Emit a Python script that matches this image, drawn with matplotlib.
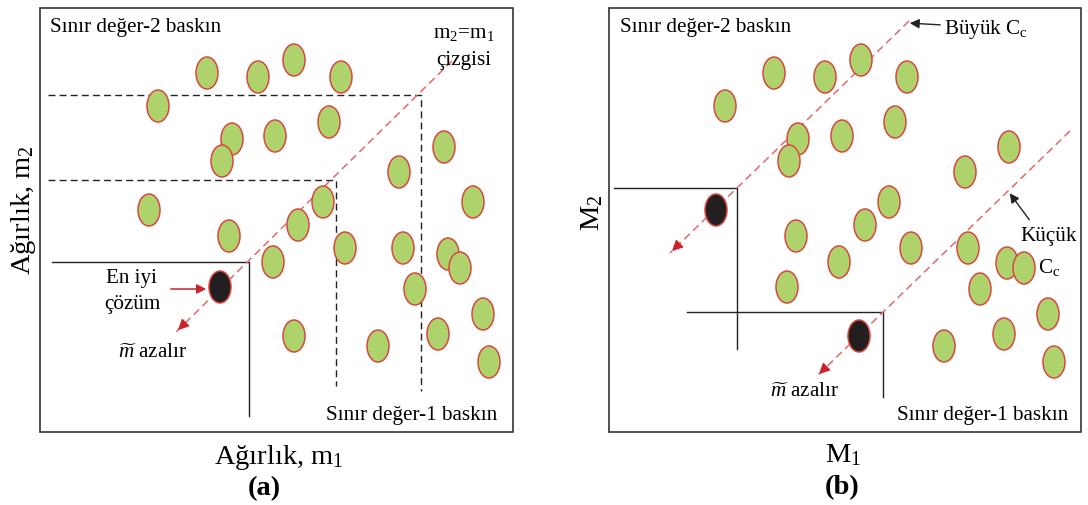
import matplotlib.pyplot as plt
from matplotlib.patches import Ellipse, Rectangle

plt.rcParams['font.family'] = ['Liberation Serif', 'DejaVu Serif']
plt.rcParams['mathtext.fontset'] = 'custom'
plt.rcParams['mathtext.rm'] = 'Liberation Serif'
plt.rcParams['mathtext.it'] = 'Liberation Serif:italic'

# candidate solutions (pixel layout, y grows downward)
a_x = [207, 258, 294, 341, 158, 232, 222, 275, 329, 444, 399, 473, 149, 323,
       229, 298, 273, 345, 403, 448, 460, 415, 483, 294, 378, 438, 489]
a_y = [74, 78, 61, 78, 107, 140, 162, 137, 123, 148, 173, 203, 211, 203,
       237, 226, 263, 249, 249, 255, 269, 290, 315, 337, 347, 335, 363]
a_best = [(220, 288)]

b_x = [774, 825, 861, 907, 725, 798, 789, 842, 895, 1009, 965, 889, 865,
       796, 911, 968, 839, 1007, 1024, 787, 980, 1048, 1004, 944, 1054]
b_y = [74, 78, 61, 78, 107, 140, 162, 137, 123, 148, 173, 203, 226,
       237, 249, 249, 263, 264, 269, 288, 290, 315, 335, 347, 363]
b_best = [(716, 211), (859, 337)]

GREEN = '#aed36c'
EDGE = '#d9473f'
DARK = '#231f20'
RED_LINE = '#e36a6a'
RED = '#cc2229'

fig = plt.figure(figsize=(10.88, 5.06), dpi=100)
ax = fig.add_axes([0, 0, 1, 1])
ax.set_xlim(0, 1088)
ax.set_ylim(506, 0)
ax.axis('off')


def blob(x, y, fill):
    ax.add_patch(Ellipse((x, y), 22, 32, facecolor=fill, edgecolor=EDGE, lw=1.1, zorder=3))


def dashed_arrow(x0, y0, x1, y1):
    ax.plot([x0, x1], [y0, y1], color=RED_LINE, lw=1.1, ls=(0, (5, 3)), zorder=2)
    dx, dy = x1 - x0, y1 - y0
    n = (dx ** 2 + dy ** 2) ** 0.5
    ax.annotate('', xy=(x1, y1), xytext=(x1 - dx / n * 12, y1 - dy / n * 12),
                arrowprops=dict(arrowstyle='-|>', color=RED, lw=1, mutation_scale=16), zorder=4)


# panel frames
for left, right in [(40, 513), (609, 1081)]:
    ax.add_patch(Rectangle((left, 9), right - left, 424, fill=False, edgecolor='#333333', lw=1.2))

# ---- (a) ----
dash = dict(color='#222222', lw=1.0, ls=(0, (5, 3)))
ax.plot([48, 421, 421], [96, 96, 392], **dash)
ax.plot([48, 336, 336], [181, 181, 387], **dash)
ax.plot([52, 249, 249], [263, 263, 417], color='#222222', lw=1.0)
dashed_arrow(452, 62, 176, 333)

for x, y in zip(a_x, a_y):
    blob(x, y, GREEN)
for x, y in a_best:
    blob(x, y, DARK)

ax.annotate('', xy=(209, 290), xytext=(168, 290),
            arrowprops=dict(arrowstyle='-|>', color=RED, lw=1.1, mutation_scale=14))

fs = 15.2
big = 20.5
ax.text(50, 27, 'Sınır değer-2 baskın', fontsize=fs, va='center', ha='left')
ax.text(464, 33, r'm$_2$=m$_1$', fontsize=fs, va='center', ha='center')
ax.text(464, 60, 'çizgisi', fontsize=fs, va='center', ha='center')
ax.text(132, 279, 'En iyi', fontsize=fs, va='center', ha='center')
ax.text(132, 305, 'çözüm', fontsize=fs, va='center', ha='center')
ax.text(153, 353, r'$\widetilde{m}$ azalır', fontsize=fs, va='center', ha='center')
ax.text(497, 416, 'Sınır değer-1 baskın', fontsize=fs, va='center', ha='right')
ax.text(279, 458, r'Ağırlık, m$_1$', fontsize=big, va='center', ha='center')
ax.text(264, 489, '(a)', fontsize=big, fontweight='bold', va='center', ha='center')
ax.text(23, 210, r'Ağırlık, m$_2$', fontsize=big, va='center', ha='center', rotation=90)

# ---- (b) ----
ax.plot([614, 737, 737], [189, 189, 350], color='#222222', lw=1.0)
ax.plot([687, 883, 883], [313, 313, 398], color='#222222', lw=1.0)
dashed_arrow(909, 22, 670, 254)
dashed_arrow(1070, 132, 817, 377)

for x, y in zip(b_x, b_y):
    blob(x, y, GREEN)
for x, y in b_best:
    blob(x, y, DARK)

ax.annotate('', xy=(907, 24), xytext=(943, 26),
            arrowprops=dict(arrowstyle='-|>', color='#222222', lw=1.0, mutation_scale=14))
ax.annotate('', xy=(1008, 192), xytext=(1031, 223),
            arrowprops=dict(arrowstyle='-|>', color='#222222', lw=1.0, mutation_scale=14))

ax.text(620, 27, 'Sınır değer-2 baskın', fontsize=fs, va='center', ha='left')
ax.text(944, 29, r'Büyük C$_\mathrm{c}$', fontsize=fs, va='center', ha='left')
ax.text(1049, 237, 'Küçük', fontsize=fs, va='center', ha='center')
ax.text(1049, 267, r'C$_\mathrm{c}$', fontsize=fs, va='center', ha='center')
ax.text(805, 393, r'$\widetilde{m}$ azalır', fontsize=fs, va='center', ha='center')
ax.text(1068, 416, 'Sınır değer-1 baskın', fontsize=fs, va='center', ha='right')
ax.text(843, 455, r'M$_1$', fontsize=big, va='center', ha='center')
ax.text(842, 488, '(b)', fontsize=big, fontweight='bold', va='center', ha='center')
ax.text(592, 213, r'M$_2$', fontsize=big, va='center', ha='center', rotation=90)

fig.savefig('out.png', dpi=100)
